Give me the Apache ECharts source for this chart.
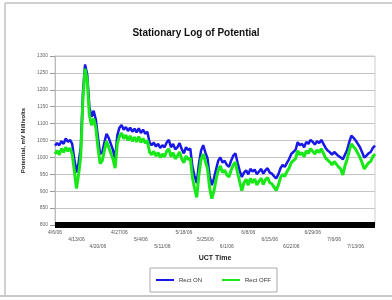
<!DOCTYPE html>
<html><head><meta charset="utf-8">
<script src="https://cdn.jsdelivr.net/npm/echarts@6/dist/echarts.min.js"></script>
<style>html,body{margin:0;padding:0;background:#fff}#c{width:392px;height:300px}</style>
</head><body><div id="c"></div>
<script>
var titleText = 'Stationary Log of Potential';
var seriesNames = ['Rect ON', 'Rect OFF'];
var tickLabels = ['4/6/06','4/13/06','4/20/06','4/27/06','5/4/06','5/11/06','5/18/06','5/25/06','6/1/06','6/8/06','6/15/06','6/22/06','6/29/06','7/6/06','7/13/06'];
var rectOn = [1035,1042,1036,1048,1040,1056,1046,1052,1040,995,955,985,1030,1190,1275,1245,1150,1120,1138,1112,
1060,1010,1015,1045,1070,1058,1040,1022,995,1065,1088,1096,1082,1090,1078,1088,1076,1085,1074,1086,
1072,1082,1070,1076,1045,1036,1044,1032,1040,1028,1036,1030,1044,1052,1030,1040,1024,1030,1042,1025,
1012,1030,1022,1026,972,945,924,980,1020,1036,1015,998,945,918,938,965,990,1000,985,990,
978,972,990,1005,1012,985,960,942,955,962,950,966,958,964,950,958,966,952,962,968,
955,952,944,938,950,968,978,972,984,995,1010,1016,1022,1045,1036,1040,1030,1046,1040,1052,
1046,1038,1048,1042,1052,1040,1028,1020,1015,1008,1016,1010,1004,1000,994,1008,1022,1045,1064,1058,
1050,1040,1030,1015,1000,1005,1012,1016,1028,1035];
var rectOff = [1010,1020,1008,1026,1015,1030,1018,1028,1010,960,908,950,1005,1170,1262,1228,1125,1095,1115,1088,
1030,982,990,1020,1048,1030,1012,995,968,1040,1062,1072,1055,1066,1050,1064,1048,1060,1046,1062,
1044,1056,1042,1050,1016,1008,1018,1004,1014,1000,1010,1002,1018,1025,1002,1014,996,1004,1016,996,
984,1004,994,998,940,908,882,948,994,1010,988,968,910,878,900,935,962,975,955,962,
948,942,962,978,986,955,928,902,925,935,918,938,925,936,918,930,938,920,934,940,
925,922,912,902,918,940,950,944,958,968,985,990,996,1020,1008,1014,1002,1020,1012,1026,
1018,1010,1022,1014,1026,1012,998,992,986,978,988,980,972,966,948,975,994,1020,1040,1032,
1024,1012,1000,984,966,975,984,988,1002,1010];
var yMin = 800, yMax = 1300, yStep = 50, tickEvery = 10;

function pairs(arr){ return arr.map(function(v,i){return [i,v];}); }
var n = rectOn.length;
var chart = echarts.init(document.getElementById('c'), null, {renderer:'canvas'});
chart.setOption({
  animation:false,
  backgroundColor:'#fff',
  title:{text:titleText,left:'center',top:23,textStyle:{fontFamily:'Liberation Sans',fontSize:10,fontWeight:'bold',color:'#111'}},
  graphic:[
    {type:'line',shape:{x1:5,y1:3,x2:392,y2:3},style:{stroke:'#d0d0d0',lineWidth:2}},
    {type:'line',shape:{x1:5,y1:3,x2:5,y2:296},style:{stroke:'#d0d0d0',lineWidth:2}},
    {type:'line',shape:{x1:0,y1:296,x2:392,y2:296},style:{stroke:'#c8c8c8',lineWidth:2}}
  ],
  legend:{data:seriesNames,bottom:8,left:150,itemWidth:18,itemHeight:2,itemGap:20,
    padding:[9,6,9,6],borderColor:'#aaa',borderWidth:1,icon:'rect',
    textStyle:{fontFamily:'Liberation Sans',fontSize:6,color:'#333'}},
  grid:{left:55,right:17,top:56,bottom:75,show:true,borderColor:'#ccc',borderWidth:1},
  xAxis:{type:'value',min:0,max:n-1,interval:tickEvery,
    name:'UCT Time',nameLocation:'middle',nameGap:30,
    nameTextStyle:{fontFamily:'Liberation Sans',fontSize:7,fontWeight:'bold',color:'#222'},
    axisLine:{lineStyle:{color:'#000',width:6,cap:'butt'}},
    axisTick:{show:false},splitLine:{show:false},
    axisLabel:{margin:4,fontSize:5,lineHeight:7,color:'#555',fontFamily:'Liberation Sans',
      showMaxLabel:false,
      formatter:function(v){var k=Math.round(v/tickEvery);var r=k%3;var s='';for(var j=0;j<r;j++)s+='\n';return s+(tickLabels[k]||'');}}
  },
  yAxis:{type:'value',min:yMin,max:yMax,interval:yStep,
    name:'Potential, mV Millivolts',nameLocation:'middle',nameGap:22,nameRotate:90,
    nameTextStyle:{fontFamily:'Liberation Sans',fontSize:6,fontWeight:'bold',color:'#222'},
    axisLine:{show:true,lineStyle:{color:'#bbb'}},
    axisTick:{show:true,length:5,lineStyle:{color:'#999'}},
    axisLabel:{fontSize:5,color:'#666',margin:7,fontFamily:'Liberation Sans',formatter:function(v){return String(v);}},
    splitLine:{lineStyle:{color:'#c4c4c4',width:1}}
  },
  series:[
    {name:seriesNames[0],type:'line',data:pairs(rectOn),showSymbol:false,color:'#1818e8',lineStyle:{width:2.5,color:'#1818e8'}},
    {name:seriesNames[1],type:'line',data:pairs(rectOff),showSymbol:false,color:'#18e818',lineStyle:{width:3,color:'#18e818'}}
  ]
});
</script></body></html>
